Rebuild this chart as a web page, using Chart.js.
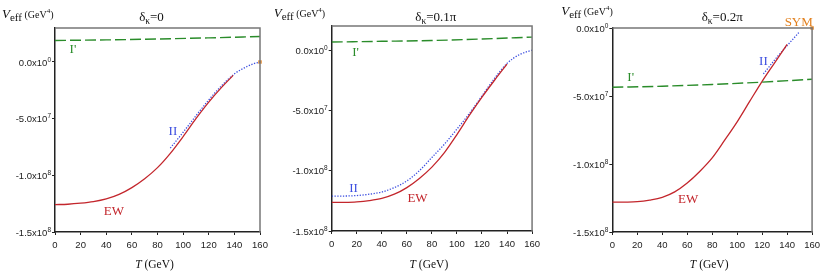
<!DOCTYPE html>
<html>
<head>
<meta charset="utf-8">
<script src="https://cdn.jsdelivr.net/npm/chart.js@4.4.1/dist/chart.umd.min.js"></script>
<style>
  body { margin: 0; background: #fff; width: 825px; height: 273px; position: relative; overflow: hidden; }
  .panel { position: absolute; top: 0; height: 273px; }
</style>
</head>
<body>
<div class="panel" style="left:0;width:275px"><canvas id="c1"></canvas></div>
<div class="panel" style="left:275px;width:270px"><canvas id="c2"></canvas></div>
<div class="panel" style="left:545px;width:280px"><canvas id="c3"></canvas></div>
<script>
// axis ticks
const xTicks = [0, 20, 40, 60, 80, 100, 120, 140, 160];
const yTicks = [-1.5e8, -1.0e8, -5.0e7, 0];

// delta_kappa = 0
const ewT1 = [0, 10, 20, 30, 40, 50, 60, 70, 80, 90, 100, 110, 120, 130, 139];
const ewV1 = [-1.258e8, -1.255e8, -1.246e8, -1.232e8, -1.208e8, -1.168e8, -1.108e8, -1.03e8, -0.932e8, -0.806e8, -0.658e8, -0.50e8, -0.354e8, -0.224e8, -0.118e8];
const iiT1 = [90, 100, 110, 120, 130, 140, 150, 155, 160];
const iiV1 = [-7.6e7, -6.2e7, -4.75e7, -3.35e7, -2.1e7, -1.05e7, -3.9e6, -1.5e6, 0];
const ipT1 = [0, 40, 80, 120, 160];
const ipV1 = [1.9e7, 1.95e7, 2.03e7, 2.13e7, 2.25e7];
const symT1 = [160];
const symV1 = [0];

// delta_kappa = 0.1 pi
const ewT2 = [0, 10, 20, 30, 40, 50, 60, 70, 80, 90, 100, 110, 120, 130, 140];
const ewV2 = [-1.263e8, -1.262e8, -1.258e8, -1.248e8, -1.23e8, -1.195e8, -1.14e8, -1.064e8, -0.97e8, -0.85e8, -0.70e8, -0.54e8, -0.39e8, -0.25e8, -0.116e8];
const iiT2 = [0, 10, 20, 30, 40, 50, 60, 70, 80, 90, 100, 110, 120, 130, 140, 150, 160];
const iiV2 = [-1.21e8, -1.21e8, -1.206e8, -1.195e8, -1.177e8, -1.14e8, -1.085e8, -1.0e8, -0.89e8, -0.78e8, -0.655e8, -0.525e8, -0.38e8, -0.235e8, -1.1e7, -3.7e6, 0];
const ipT2 = [0, 40, 80, 120, 160];
const ipV2 = [6.7e6, 7.3e6, 8.0e6, 9.2e6, 1.08e7];

// delta_kappa = 0.2 pi
const ewT3 = [0, 10, 20, 30, 40, 50, 60, 70, 80, 90, 100, 110, 120, 130, 140];
const ewV3 = [-1.281e8, -1.28e8, -1.277e8, -1.265e8, -1.245e8, -1.205e8, -1.14e8, -1.055e8, -0.955e8, -0.825e8, -0.69e8, -0.54e8, -0.392e8, -0.256e8, -0.12e8];
const iiT3 = [121, 130, 140, 150];
const iiV3 = [-3.38e7, -2.35e7, -1.3e7, -2.7e6];
const ipT3 = [0, 40, 80, 120, 160];
const ipV3 = [-4.36e7, -4.28e7, -4.15e7, -3.98e7, -3.77e7];
const symT3 = [160];
const symV3 = [0];

const RED = '#c3262c';
const BLUE = '#3d4fe0';
const GREEN = '#2a8c2a';
const ORANGE = '#e2801e';
const SERIF = '"Liberation Serif", "Times New Roman", serif';
const SANS = '"Liberation Sans", Arial, sans-serif';

function pts(xs, ys) {
    return xs.map((x, i) => ({ x: x, y: ys[i] }));
}

// draw a run of text pieces (for sub/superscripts)
function drawRuns(ctx, x, y, runs, align) {
    let total = 0;
    runs.forEach(r => { ctx.font = r.font; total += ctx.measureText(r.t).width; });
    let cx = align === 'right' ? x - total : align === 'center' ? x - total / 2 : x;
    ctx.textAlign = 'left';
    ctx.textBaseline = 'alphabetic';
    runs.forEach(r => {
        ctx.font = r.font;
        ctx.fillStyle = r.color || '#111';
        ctx.fillText(r.t, cx, y + (r.dy || 0));
        cx += ctx.measureText(r.t).width;
    });
}

function tickRuns(v) {
    let exp = v === 0 ? 0 : Math.floor(Math.log10(Math.abs(v)));
    let mant = (v / Math.pow(10, exp)).toFixed(1);
    return [
        { t: mant + 'x10', font: '9.5px ' + SANS, color: '#222' },
        { t: String(exp), font: '6.5px ' + SANS, color: '#222', dy: -4 }
    ];
}

const decor = {
    id: 'decor',
    afterDraw(chart, args, opts) {
        const ctx = chart.ctx;
        const a = chart.chartArea;
        const xs = chart.scales.x, ys = chart.scales.y;
        ctx.save();
        // top and right frame
        ctx.strokeStyle = '#777';
        ctx.lineWidth = 1.5;
        ctx.beginPath();
        ctx.moveTo(a.left, a.top);
        ctx.lineTo(a.right, a.top);
        ctx.lineTo(a.right, a.bottom);
        ctx.stroke();
        // y tick labels with exponent
        yTicks.forEach(v => {
            if (v > ys.max || v < ys.min) return;
            drawRuns(ctx, a.left - 4, ys.getPixelForValue(v) + 3.5, tickRuns(v), 'right');
        });
        // axis titles
        drawRuns(ctx, a.left + opts.yTitleDx, opts.yTitleY, [
            { t: 'V', font: 'italic 13px ' + SERIF },
            { t: 'eff', font: '11px ' + SERIF, dy: 3 },
            { t: ' (GeV', font: '10px ' + SERIF },
            { t: '4', font: '7px ' + SERIF, dy: -5 },
            { t: ')', font: '10px ' + SERIF }
        ], 'left');
        const mid = (a.left + a.right) / 2;
        drawRuns(ctx, mid + opts.titleDx, 21, [
            { t: '\u03b4', font: '13px ' + SERIF },
            { t: '\u03ba', font: '9.5px ' + SERIF, dy: 3 },
            { t: '=' + opts.title, font: '13px ' + SERIF }
        ], 'center');
        drawRuns(ctx, mid - 3, 268, [
            { t: 'T', font: 'italic 11.5px ' + SERIF },
            { t: ' (GeV)', font: '11.5px ' + SERIF }
        ], 'center');
        // curve labels
        opts.labels.forEach(l => {
            ctx.font = '13px ' + SERIF;
            ctx.fillStyle = l.color;
            ctx.textAlign = 'center';
            ctx.textBaseline = 'middle';
            ctx.fillText(l.text, xs.getPixelForValue(l.t), ys.getPixelForValue(l.v));
        });
        ctx.restore();
    }
};

function makePanel(id, p) {
    const datasets = [
        { data: pts(p.ipT, p.ipV), borderColor: GREEN, borderWidth: 1.4, borderDash: [11, 4], pointRadius: 0 },
        { data: pts(p.ewT, p.ewV), borderColor: RED, borderWidth: 1.3, pointRadius: 0 },
        { data: pts(p.iiT, p.iiV), borderColor: BLUE, borderWidth: 1.3, borderDash: [1.3, 1.5], pointRadius: 0 }
    ];
    if (p.symT) {
        datasets.push({ data: pts(p.symT, p.symV), showLine: false, pointStyle: 'rect', pointRadius: 2.4,
            backgroundColor: ORANGE, borderColor: ORANGE, borderWidth: 0, clip: false });
    }
    const axisX = {
        type: 'linear', min: 0, max: 160,
        afterBuildTicks: s => { s.ticks = xTicks.map(v => ({ value: v })); },
        afterFit: s => { s.height = 273 - p.bottom; },
        ticks: { color: '#222', font: { family: SANS, size: 9.5 }, padding: 5, maxRotation: 0 },
        grid: { drawOnChartArea: false, drawTicks: true, tickLength: 3, color: '#222' },
        border: { color: '#222', width: 1.5 }
    };
    const axisY = {
        type: 'linear', min: -1.5e8, max: p.yMax,
        afterBuildTicks: s => { s.ticks = yTicks.map(v => ({ value: v })); },
        afterFit: s => { s.width = p.yWidth; },
        ticks: { display: false },
        grid: { drawOnChartArea: false, drawTicks: true, tickLength: 3, color: '#222' },
        border: { color: '#222', width: 1.5 }
    };
    return new Chart(document.getElementById(id), {
        type: 'line',
        data: { datasets: datasets },
        options: {
            responsive: true,
            maintainAspectRatio: false,
            animation: false,
            elements: { line: { cubicInterpolationMode: 'monotone' } },
            layout: { padding: { top: p.top, right: p.right, bottom: 0, left: 0 } },
            scales: { x: axisX, y: axisY },
            plugins: {
                legend: { display: false },
                tooltip: { enabled: false },
                decor: p.decor
            }
        },
        plugins: [decor]
    });
}

makePanel('c1', {
    ewT: ewT1, ewV: ewV1, iiT: iiT1, iiV: iiV1, ipT: ipT1, ipV: ipV1, symT: symT1, symV: symV1,
    yMax: 3e7, yWidth: 55, top: 28, right: 15, bottom: 232,
    decor: {
        yTitleDx: -53, yTitleY: 18, title: '0', titleDx: -6,
        labels: [
            { text: "I'", t: 14, v: 1.08e7, color: GREEN },
            { text: 'II', t: 92, v: -6.1e7, color: BLUE },
            { text: 'EW', t: 46, v: -1.32e8, color: RED }
        ]
    }
});

makePanel('c2', {
    ewT: ewT2, ewV: ewV2, iiT: iiT2, iiV: iiV2, ipT: ipT2, ipV: ipV2,
    yMax: 2e7, yWidth: 56.7, top: 26, right: 9.3, bottom: 231,
    decor: {
        yTitleDx: -58, yTitleY: 17, title: '0.1\u03c0', titleDx: 4,
        labels: [
            { text: "I'", t: 19, v: -1.9e6, color: GREEN },
            { text: 'II', t: 17.5, v: -1.145e8, color: BLUE },
            { text: 'EW', t: 68.5, v: -1.23e8, color: RED }
        ]
    }
});

makePanel('c3', {
    ewT: ewT3, ewV: ewV3, iiT: iiT3, iiV: iiV3, ipT: ipT3, ipV: ipV3, symT: symT3, symV: symV3,
    yMax: 0, yWidth: 67.3, top: 28, right: 8.3, bottom: 232,
    decor: {
        yTitleDx: -51, yTitleY: 15, title: '0.2\u03c0', titleDx: 10,
        labels: [
            { text: "I'", t: 14.7, v: -3.68e7, color: GREEN },
            { text: 'II', t: 121, v: -2.5e7, color: BLUE },
            { text: 'EW', t: 60.8, v: -1.264e8, color: RED },
            { text: 'SYM', t: 149.3, v: 3.7e6, color: ORANGE }
        ]
    }
});
</script>
</body>
</html>
